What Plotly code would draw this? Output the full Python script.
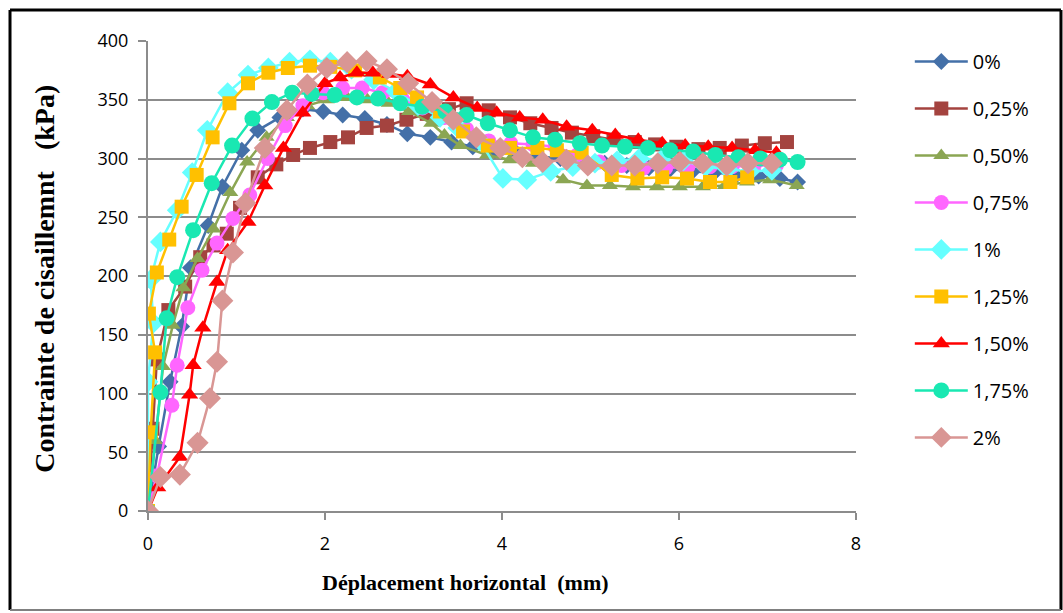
import plotly.graph_objects as go

# ---- data (displacement mm, shear stress kPa) ----
labels = ["0%", "0,25%", "0,50%", "0,75%", "1%", "1,25%", "1,50%", "1,75%", "2%"]

x_0 = [0, 0.12, 0.25, 0.38, 0.48, 0.68, 0.84, 1.06, 1.24, 1.49, 1.75, 1.98, 2.2, 2.45, 2.7, 2.93, 3.19, 3.43,
       3.67, 3.92, 4.17, 4.41, 4.66, 4.91, 5.16, 5.41, 5.66, 5.9, 6.15, 6.4, 6.65, 6.9, 7.14, 7.34]
y_0 = [0, 55, 110, 157, 207, 243, 276, 307, 324, 335, 342, 340, 337, 334, 329, 321, 318, 314,
       310, 307, 304, 302, 300, 298, 296, 294, 292, 291, 289, 288, 286, 285, 283, 280]

x_025 = [0, 0.05, 0.1, 0.23, 0.42, 0.59, 0.74, 0.89, 1.04, 1.24, 1.45, 1.64, 1.83, 2.06, 2.26, 2.47, 2.7, 2.92,
         3.15, 3.4, 3.6, 3.85, 4.09, 4.32, 4.56, 4.79, 5.03, 5.26, 5.5, 5.73, 5.97, 6.22, 6.46, 6.71, 6.97, 7.22]
y_025 = [0, 70, 129, 171, 191, 216, 226, 236, 258, 284, 295, 303, 309, 314, 318, 326, 328, 333,
         338, 342, 347, 341, 335, 330, 326, 322, 319, 316, 314, 312, 310, 308, 309, 311, 313, 314]

x_050 = [0, 0.08, 0.17, 0.28, 0.4, 0.56, 0.74, 0.93, 1.12, 1.34, 1.57, 1.8, 2.02, 2.25, 2.48, 2.72, 2.95, 3.2,
         3.35, 3.53, 3.83, 4.09, 4.35, 4.69, 4.96, 5.22, 5.48, 5.75, 6.01, 6.27, 6.52, 6.77, 7.03, 7.33]
y_050 = [0, 60, 123, 158, 190, 215, 240, 271, 297, 318, 335, 345, 350, 352, 350, 347, 340, 330,
         320, 311, 303, 299, 296, 282, 277, 277, 276, 276, 276, 276, 277, 280, 282, 277]

x_075 = [0, 0.1, 0.27, 0.33, 0.45, 0.61, 0.78, 0.96, 1.15, 1.35, 1.55, 1.75, 1.98, 2.2, 2.42, 2.65, 2.88, 3.1,
         3.35, 3.6, 3.85, 4.1, 4.35, 4.6, 4.85, 5.1, 5.35, 5.6, 5.85, 6.1, 6.35, 6.6, 6.85, 7.1]
y_075 = [0, 30, 90, 124, 173, 205, 228, 249, 269, 300, 328, 345, 356, 360, 360, 356, 350, 343,
         335, 325, 315, 313, 312, 310, 303, 297, 294, 292, 292, 293, 293, 293, 294, 294]

x_1 = [0, 0.0, 0.06, 0.03, 0.14, 0.33, 0.5, 0.67, 0.9, 1.13, 1.36, 1.6, 1.83, 2.06, 2.3, 2.55, 2.8, 3.05,
       3.3, 3.5, 3.75, 4.01, 4.28, 4.55, 4.8, 5.05, 5.3, 5.55, 5.8, 6.05, 6.3, 6.55, 6.8, 7.05]
y_1 = [0, 110, 160, 197, 229, 256, 288, 324, 356, 371, 377, 382, 384, 382, 376, 367, 357, 345,
       335, 326, 315, 283, 282, 289, 293, 296, 298, 300, 299, 298, 293, 291, 289, 290]

x_125 = [0, 0.03, 0.08, 0.01, 0.1, 0.24, 0.38, 0.55, 0.73, 0.92, 1.13, 1.36, 1.58, 1.83, 2.06, 2.34, 2.62, 2.85,
         3.04, 3.3, 3.56, 3.84, 4.09, 4.4, 4.62, 4.9, 5.24, 5.53, 5.81, 6.09, 6.35, 6.58, 6.77]
y_125 = [0, 67, 135, 168, 203, 231, 259, 286, 318, 347, 364, 373, 377, 379, 378, 375, 369, 360,
         352, 340, 323, 311, 309, 309, 307, 305, 286, 283, 284, 283, 280, 280, 284]

x_150 = [0, 0.11, 0.36, 0.47, 0.51, 0.62, 0.78, 0.9, 1.13, 1.32, 1.53, 1.75, 2.0, 2.17, 2.36, 2.54, 2.73, 2.93,
         3.19, 3.45, 3.72, 3.94, 4.2, 4.46, 4.73, 5.02, 5.28, 5.54, 5.81, 6.07, 6.33, 6.6, 6.86, 7.1]
y_150 = [0, 20, 46, 99, 124, 156, 195, 222, 246, 277, 309, 339, 364, 369, 373, 373, 372, 370,
         363, 352, 343, 339, 335, 333, 327, 324, 320, 316, 313, 311, 310, 309, 307, 305]

x_175 = [0, 0.14, 0.21, 0.33, 0.51, 0.72, 0.95, 1.18, 1.4, 1.63, 1.85, 2.11, 2.36, 2.6, 2.85, 3.1, 3.36, 3.6,
         3.84, 4.09, 4.35, 4.6, 4.88, 5.13, 5.39, 5.65, 5.9, 6.16, 6.41, 6.67, 6.92, 7.14, 7.34]
y_175 = [0, 101, 164, 199, 239, 279, 311, 334, 348, 356, 355, 354, 352, 351, 347, 344, 340, 337,
         330, 324, 318, 316, 313, 311, 310, 309, 307, 306, 303, 301, 300, 299, 297]

x_2 = [0, 0.14, 0.36, 0.56, 0.7, 0.78, 0.84, 0.96, 1.1, 1.32, 1.57, 1.8, 2.02, 2.25, 2.47, 2.7, 2.94, 3.21,
       3.45, 3.71, 3.98, 4.23, 4.46, 4.73, 4.97, 5.24, 5.5, 5.76, 6.01, 6.27, 6.54, 6.78, 7.05]
y_2 = [0, 29, 31, 58, 96, 127, 179, 220, 262, 309, 341, 363, 377, 382, 383, 376, 364, 348,
       333, 318, 309, 301, 297, 299, 294, 294, 294, 296, 297, 296, 294, 296, 296]

x_ticks = [0, 2, 4, 6, 8]
y_ticks = [0, 50, 100, 150, 200, 250, 300, 350, 400]

series = [
    (labels[0], x_0, y_0, "#4470A8", "diamond", 13),
    (labels[1], x_025, y_025, "#A4433F", "square", 14),
    (labels[2], x_050, y_050, "#8BA653", "triangle-up", 14),
    (labels[3], x_075, y_075, "#FF66FF", "circle", 15),
    (labels[4], x_1, y_1, "#66FFFF", "diamond", 16),
    (labels[5], x_125, y_125, "#FFC000", "square", 14),
    (labels[6], x_150, y_150, "#FF0000", "triangle-up", 15),
    (labels[7], x_175, y_175, "#19E8B2", "circle", 16),
    (labels[8], x_2, y_2, "#D99694", "diamond", 17),
]

fig = go.Figure()
for i, (name, xs, ys, col, sym, sz) in enumerate(series):
    fig.add_trace(go.Scatter(
        x=xs, y=ys, name=name, mode="lines+markers",
        line=dict(color=col, width=2.5),
        marker=dict(symbol=sym, size=sz, color=col, line=dict(width=0)),
        legendgroup=f"g{i}",
    ))

grid = "#8C8C8C"
tickfont = dict(family="Open Sans, Noto Sans, sans-serif", size=18, color="#000000")

fig.update_layout(
    width=1063, height=613,
    paper_bgcolor="white", plot_bgcolor="white",
    margin=dict(l=148, r=207, t=41, b=102),
    showlegend=True,
    legend=dict(
        x=1.076, xanchor="left", y=0.998, yanchor="top",
        font=dict(family="Open Sans, Noto Sans, sans-serif", size=20, color="#000000"),
        tracegroupgap=18, itemwidth=53, bgcolor="rgba(0,0,0,0)", maxheight=600,
    ),
    xaxis=dict(
        range=[0, 8], tickvals=x_ticks, ticktext=[str(v) for v in x_ticks],
        showgrid=False, zeroline=False, showline=True, linecolor=grid, linewidth=2,
        ticks="outside", ticklen=7, tickcolor=grid, tickwidth=2,
        tickfont=tickfont, ticklabelstandoff=8,
    ),
    yaxis=dict(
        range=[0, 400], tickvals=y_ticks, ticktext=[str(v) for v in y_ticks],
        showgrid=True, gridcolor=grid, gridwidth=2, zeroline=False,
        showline=True, linecolor=grid, linewidth=2,
        ticks="outside", ticklen=8, tickcolor=grid, tickwidth=2,
        tickfont=tickfont, ticklabelstandoff=6,
    ),
    annotations=[
        dict(text="Contrainte de cisaillemnt   (kPa)", xref="paper", yref="paper",
             x=-0.1455, y=0.494, textangle=-90, showarrow=False,
             font=dict(family="Liberation Serif, serif", size=28, color="#000000"),
             xanchor="center", yanchor="middle"),
        dict(text="Déplacement horizontal  (mm)", xref="paper", yref="paper",
             x=0.448, y=-0.153, showarrow=False,
             font=dict(family="Liberation Serif, serif", size=22, color="#000000"),
             xanchor="center", yanchor="middle"),
    ],
    shapes=[
        dict(type="line", xref="paper", yref="paper", x0=-0.1949, x1=1.2895, y0=1.0660, y1=1.0660,
             line=dict(color="black", width=3)),
        dict(type="line", xref="paper", yref="paper", x0=-0.1949, x1=-0.1949, y0=1.0660, y1=-0.2106,
             line=dict(color="black", width=3)),
        dict(type="line", xref="paper", yref="paper", x0=1.2895, x1=1.2895, y0=1.0660, y1=-0.2106,
             line=dict(color="black", width=3)),
        dict(type="line", xref="paper", yref="paper", x0=-0.1949, x1=1.2895, y0=-0.2106, y1=-0.2106,
             line=dict(color="#808080", width=2)),
    ],
)
for a in fig.layout.annotations:
    a.font.weight = "bold"

fig.write_html("out.html")
